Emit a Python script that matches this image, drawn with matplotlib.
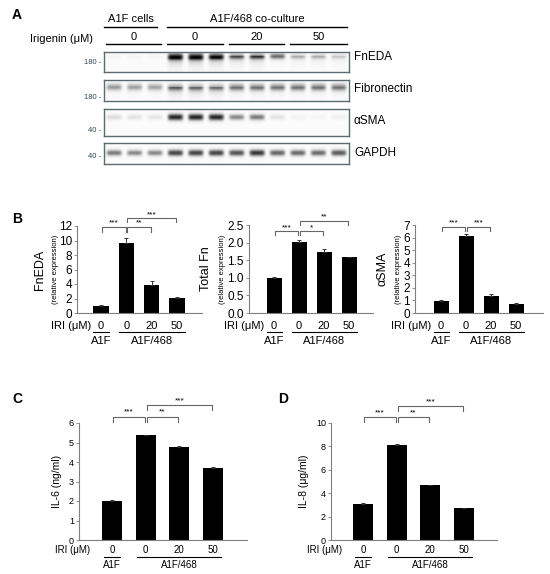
import numpy as np
import matplotlib
matplotlib.use('Agg')
import matplotlib.pyplot as plt
from matplotlib.transforms import blended_transform_factory

plt.rcParams['font.family'] = ['Liberation Sans', 'DejaVu Sans']

W, H = 550, 574

# ---- data ----
doses = ['0', '0', '20', '50']
groups = ['A1F', 'A1F/468']

fneda = [1.0, 9.7, 3.8, 2.1]
fneda_err = [0.05, 0.6, 0.55, 0.15]
total_fn = [1.0, 2.01, 1.72, 1.58]
total_fn_err = [0.02, 0.06, 0.1, 0.02]
asma = [0.98, 6.1, 1.38, 0.69]
asma_err = [0.08, 0.2, 0.15, 0.1]
il6 = [2.02, 5.37, 4.77, 3.71]
il6_err = [0.02, 0.04, 0.03, 0.02]
il8 = [3.08, 8.14, 4.67, 2.72]
il8_err = [0.04, 0.06, 0.05, 0.04]

# blot band darkness per lane (12 lanes)
fneda_band = [0.04, 0.04, 0.04, 0.85, 0.85, 0.8, 0.5, 0.55, 0.6, 0.28, 0.28, 0.2]
fneda_smear = [0.03, 0.03, 0.03, 0.7, 0.7, 0.6, 0.38, 0.42, 0.1, 0.2, 0.2, 0.16]
fn_band = [0.45, 0.43, 0.42, 0.42, 0.38, 0.38, 0.5, 0.5, 0.52, 0.52, 0.52, 0.52]
fn_smear = [0.06, 0.06, 0.06, 0.4, 0.4, 0.36, 0.2, 0.2, 0.16, 0.16, 0.16, 0.16]
asma_band = [0.22, 0.18, 0.17, 0.9, 0.9, 0.9, 0.55, 0.6, 0.18, 0.08, 0.05, 0.1]
gapdh_band = [0.6, 0.55, 0.55, 0.8, 0.8, 0.8, 0.75, 0.85, 0.68, 0.66, 0.66, 0.72]

fig = plt.figure(figsize=(5.5, 5.74), dpi=100)


def box(l, t, r, b):
    return [l / W, 1 - b / H, (r - l) / W, (b - t) / H]


def fx(x):
    return x / W


def fy(y):
    return 1 - y / H


# ---- panel letters ----
for lt, x, y in [('A', 12, 15), ('B', 12, 219), ('C', 12, 399), ('D', 278, 399)]:
    fig.text(fx(x), fy(y), lt, fontsize=10, fontweight='bold', va='center')

# ---- panel A: blot ----
fig.text(fx(131), fy(19), 'A1F cells', fontsize=8, ha='center', va='center')
fig.text(fx(257), fy(19), 'A1F/468 co-culture', fontsize=8, ha='center', va='center')
fig.text(fx(93), fy(39), 'Irigenin (μM)', fontsize=8, ha='right', va='center')
for x0, x1, y in [(104, 157, 27), (167, 347, 27)]:
    fig.add_artist(plt.Line2D([fx(x0), fx(x1)], [fy(y), fy(y)], color='black', lw=1))
for lab, x0, x1 in [('0', 106, 161), ('0', 167, 223), ('20', 229, 284), ('50', 290, 347)]:
    fig.text(fx((x0 + x1) / 2), fy(37), lab, fontsize=8, ha='center', va='center')
    fig.add_artist(plt.Line2D([fx(x0), fx(x1)], [fy(44), fy(44)], color='black', lw=1))

blots = [
    ('FnEDA', 52, 72, fneda_band, fneda_smear, 0.2, 0.09, 57, '180 -', 63),
    ('Fibronectin', 80, 101, fn_band, fn_smear, 0.33, 0.11, 89, '180 -', 97),
    ('αSMA', 109, 136, asma_band, [0.0] * 12, 0.3, 0.07, 121, '40 -', 131),
    ('GAPDH', 143, 164, gapdh_band, [0.0] * 12, 0.47, 0.09, 153, '40 -', 156),
]
for name, top, bot, band, smear, yc, sig, ty, mw, mwy in blots:
    ax = fig.add_axes(box(104, top, 349, bot))
    u = np.linspace(0, 12, 12 * 40, endpoint=False) + 0.0125
    v = np.linspace(0, 1, (bot - top) * 6)
    lane = np.floor(u).astype(int)
    f = u - lane - 0.5
    hmask = np.exp(-(np.abs(f) / 0.39) ** 6)
    V = v[:, None]
    b = np.array(band)[lane][None, :]
    s = np.array(smear)[lane][None, :]
    wid = sig * (1 + 0.4 * b)
    prof = b * np.exp(-0.5 * ((V - yc) / wid) ** 2)
    tail = s * np.exp(-(V - yc) / 0.3) * (V > yc)
    img = np.clip(prof + tail, 0, 1) * hmask[None, :] + 0.03
    ax.imshow(img, cmap='Greys', vmin=0, vmax=1.05, aspect='auto',
              extent=(0, 12, 1, 0), interpolation='bilinear')
    ax.set_xticks([])
    ax.set_yticks([])
    for sp in ax.spines.values():
        sp.set_color('#5c6b70')
        sp.set_linewidth(1)
    fig.text(fx(354), fy(ty), name, fontsize=8.5, va='center')
    fig.text(fx(101), fy(mwy), mw, fontsize=5.5, ha='right', va='center', color='#2f4a55')


# ---- bar panels ----
def bar_panel(rect, xlim, vals, errs, ylim, ticks, fmt, ylab, brackets,
              fs, y_row, y_line, y_grp, ylab_x, sub_x=None,
              ul=(0.3, 0.3), tick_fs=None, lab_fs=None, iri_x=-0.38):
    ax = fig.add_axes(box(*rect))
    x = np.arange(len(vals))
    ax.bar(x, vals, width=0.6, color='black', zorder=2)
    ax.errorbar(x, vals, yerr=[np.zeros(len(errs)), errs], fmt='none',
                ecolor='#333333', elinewidth=0.7, capsize=1.5, capthick=0.7, zorder=3)
    ax.set_xlim(*xlim)
    ax.set_ylim(*ylim)
    ax.set_yticks(ticks)
    ax.set_yticklabels([fmt.format(t) for t in ticks], fontsize=tick_fs or fs)
    ax.set_xticks([])
    for k in ['top', 'right']:
        ax.spines[k].set_visible(False)
    for k in ['left', 'bottom']:
        ax.spines[k].set_color('#7f7f7f')
        ax.spines[k].set_linewidth(0.8)
    ax.tick_params(axis='y', length=2.5, width=0.6, color='#7f7f7f', pad=1.2)
    ax.patch.set_alpha(0)

    tr = blended_transform_factory(ax.transData, fig.transFigure)
    for xi, d in zip(x, doses):
        ax.text(xi, fy(y_row), d, fontsize=fs, ha='center', va='center', transform=tr)
    ax.text(iri_x, fy(y_row), 'IRI (μM)', fontsize=fs, ha='right', va='center', transform=tr)
    ax.plot([0 - ul[0], 0 + ul[0]], [fy(y_line)] * 2, color='black', lw=0.8,
            transform=tr, clip_on=False)
    ax.plot([1 - ul[1], 3 + ul[1]], [fy(y_line)] * 2, color='black', lw=0.8,
            transform=tr, clip_on=False)
    ax.text(0, fy(y_grp), groups[0], fontsize=fs, ha='center', va='center', transform=tr)
    ax.text(2, fy(y_grp), groups[1], fontsize=fs, ha='center', va='center', transform=tr)

    trl = blended_transform_factory(fig.transFigure, ax.transAxes)
    ax.text(fx(ylab_x), 0.5, ylab, rotation=90, fontsize=lab_fs or fs + 0.5,
            ha='center', va='center', transform=trl)
    if sub_x is not None:
        ax.text(fx(sub_x), 0.5, '(relative expression)', rotation=90, fontsize=5.5,
                ha='center', va='center', transform=trl)

    for i, j, yl, yb, ys, star in brackets:
        ax.plot([i + 0.03, i + 0.03, j - 0.03, j - 0.03], [yb, yl, yl, yb],
                color='#666666', lw=0.8, clip_on=False)
        ax.text((i + j) / 2, ys, star, fontsize=6, ha='center', va='center',
                clip_on=False)
    return ax


bar_panel((77, 226, 202, 313), (-0.95, 3.99), fneda, fneda_err, (0, 12),
          [0, 2, 4, 6, 8, 10, 12], '{:g}', 'FnEDA',
          [(0, 1, 11.8, 11.2, 12.4, '***'), (1, 2, 11.8, 11.2, 12.4, '**'),
           (1, 3, 13.1, 12.5, 13.5, '***')],
          8, 326, 332, 341, 40, 55.5, tick_fs=8.5, lab_fs=9)

bar_panel((249, 225, 373, 313), (-1.0, 3.96), total_fn, total_fn_err, (0, 2.5),
          [0, 0.5, 1.0, 1.5, 2.0, 2.5], '{:.1f}', 'Total Fn',
          [(0, 1, 2.34, 2.22, 2.43, '***'), (1, 2, 2.34, 2.22, 2.43, '*'),
           (1, 3, 2.62, 2.5, 2.72, '**')],
          8, 326, 332, 341, 206, 222.5, tick_fs=8.5, lab_fs=9)

bar_panel((415, 225, 543, 313), (-1.04, 4.08), asma, asma_err, (0, 7),
          [0, 1, 2, 3, 4, 5, 6, 7], '{:g}', 'αSMA',
          [(0, 1, 6.86, 6.52, 7.18, '***'), (1, 2, 6.86, 6.52, 7.18, '***')],
          8, 326, 332, 341, 383, 399, tick_fs=8.5, lab_fs=9)

bar_panel((79, 423, 247, 540), (-0.98, 4.01), il6, il6_err, (0, 6),
          [0, 1, 2, 3, 4, 5, 6], '{:g}', 'IL-6 (ng/ml)',
          [(0, 1, 6.31, 6.05, 6.56, '***'), (1, 2, 6.31, 6.05, 6.56, '**'),
           (1, 3, 6.92, 6.67, 7.13, '***')],
          7, 550, 556.5, 564.5, 57, ul=(0.24, 0.25), tick_fs=6.5, lab_fs=7.5,
          iri_x=-0.66)

bar_panel((331, 423, 497, 540), (-0.95, 3.98), il8, il8_err, (0, 10),
          [0, 2, 4, 6, 8, 10], '{:g}', 'IL-8 (μg/ml)',
          [(0, 1, 10.49, 10.09, 10.83, '***'), (1, 2, 10.49, 10.09, 10.83, '**'),
           (1, 3, 11.45, 11.05, 11.82, '***')],
          7, 550, 556.5, 564.5, 304, ul=(0.24, 0.25), tick_fs=6.5, lab_fs=7.5,
          iri_x=-0.62)

fig.savefig('out.png', dpi=100)
